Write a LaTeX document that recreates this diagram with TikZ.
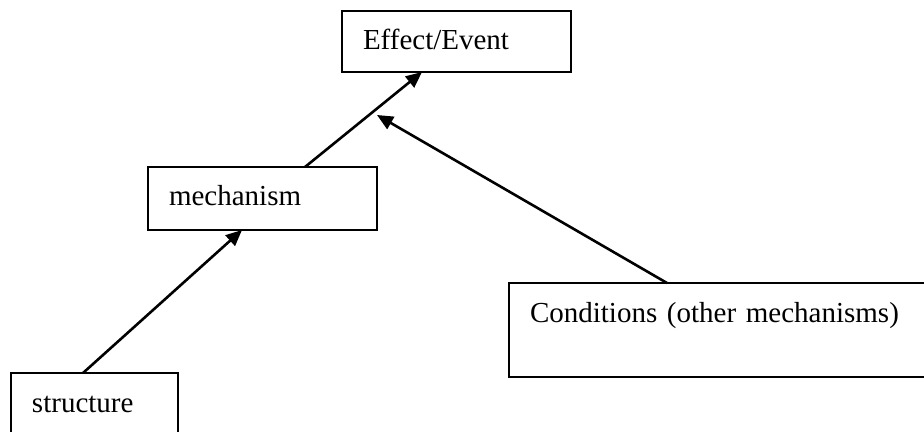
\documentclass[tikz,border=0pt]{standalone}
\usepackage{fontspec}
\setmainfont{Liberation Serif}
\usepackage{tikz}
\usetikzlibrary{arrows.meta}

\tikzset{
  box/.style={draw, line width=1.1pt, anchor=north west, outer sep=0pt,
    inner xsep=10.5pt, inner ysep=0pt, text height=19.5pt, text depth=11pt,
    align=left, font=\fontsize{14.5}{17}\selectfont},
  link/.style={-{Triangle[length=8pt,width=7pt]}, line width=1.3pt},
}

\begin{document}
\begin{tikzpicture}[x=0.5pt,y=-0.5pt]
    \useasboundingbox (0,0) rectangle (924,432);
    \node[box,text width=93.5pt] (eff) at (342,11) {Effect/Event};
    \node[box,text width=93.5pt,text depth=12pt] (mech) at (148,167) {mechanism};
    \node[box,text width=62.5pt,text depth=12pt] (struct) at (11,373) {structure};
    \node[box,text width=192pt,text depth=27.5pt] (cond) at (509,283) {Conditions (other mechanisms)};
    \coordinate (join) at (377,115);
    \draw[link] ([xshift=36pt]struct.north west) -- ([xshift=47pt]mech.south west);
    \draw[link] ([xshift=78.5pt]mech.north west) -- ([xshift=40pt]eff.south west);
    \draw[link] ([xshift=79pt]cond.north west) -- (join);
\end{tikzpicture}
\end{document}
